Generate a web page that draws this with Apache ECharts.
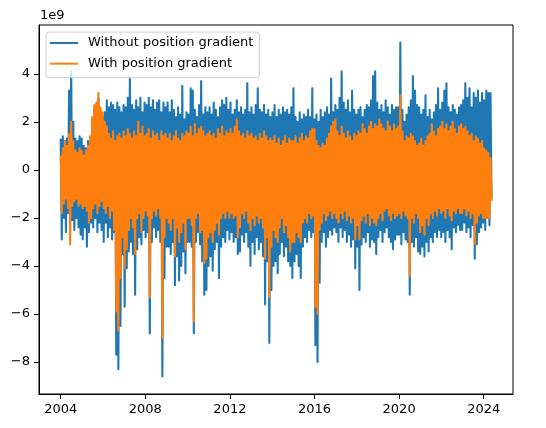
<!DOCTYPE html>
<html><head><meta charset="utf-8">
<script src="https://cdn.jsdelivr.net/npm/echarts@6/dist/echarts.min.js"></script>
<style>html,body{margin:0;padding:0;background:#fff}#c{width:546px;height:428px}</style>
</head><body><div id="c"></div>
<script>
const seriesNames = ['Without position gradient', 'With position gradient'];
const timeStart = 2004.0, timeEnd = 2024.37;
const xTicks = [2004, 2008, 2012, 2016, 2020, 2024];
const yTicks = [-8, -6, -4, -2, 0, 2, 4];

// upper / lower envelopes of the dense daily series (units of 1e9), ~0.1 yr apart
const blueHigh = [
1.3,
1.4,1.2,1.3,3.3,4.1,2.0,1.3,1.2,1.4,1.3,
1.0,0.9,1.2,1.3,2.0,2.5,2.6,3.0,2.4,2.2,
2.4,2.9,2.6,2.8,2.7,2.5,2.8,2.6,2.4,2.7,
2.6,3.0,3.8,2.7,2.5,2.9,2.6,3.0,2.4,2.8,
2.7,3.0,2.6,2.9,2.5,2.8,2.9,2.4,2.8,2.6,
2.8,2.4,2.9,2.5,2.2,2.6,2.3,3.5,2.1,2.4,
2.3,3.4,3.3,2.5,2.2,2.7,3.7,2.3,2.6,2.4,
2.6,2.3,2.8,2.5,2.2,2.6,2.9,2.7,3.0,2.5,
2.8,2.3,2.5,2.9,2.4,2.6,2.3,2.5,3.6,2.4,
2.6,2.3,2.7,3.4,2.5,2.4,2.7,2.3,2.5,2.2,
2.4,2.7,2.2,2.5,2.3,2.6,2.4,2.5,2.3,2.6,
3.4,2.2,2.0,2.4,2.1,2.3,2.2,2.5,2.2,3.4,
2.1,2.3,2.0,2.5,2.2,2.4,2.6,2.3,3.8,2.4,
2.7,2.5,3.0,4.1,2.8,2.5,2.9,2.4,3.3,2.5,
2.3,2.5,2.6,2.2,2.5,2.7,2.6,2.9,3.9,4.1,
2.8,2.5,2.7,2.4,2.9,2.6,2.3,2.7,2.5,2.6,
2.6,5.3,2.5,2.0,2.3,2.6,2.9,3.9,3.3,2.7,
2.6,2.3,2.5,3.1,2.2,2.5,2.1,2.4,2.7,3.4,
2.5,2.8,3.3,3.6,2.6,2.4,2.7,2.5,2.3,2.6,
2.7,2.9,3.6,3.0,3.4,2.6,3.2,3.0,3.3,2.8,
3.2,2.9,3.3,3.2,3.2
];
const blueLow = [
-2.9,
-2.0,-2.6,-1.8,-2.2,-2.1,-2.5,-2.0,-2.4,-2.7,-2.9,
-2.4,-3.2,-2.6,-2.2,-2.4,-2.0,-2.6,-2.2,-2.5,-3.0,
-2.2,-2.8,-2.4,-2.9,-2.6,-7.7,-8.3,-6.5,-3.5,-5.7,
-4.1,-3.4,-3.0,-3.5,-5.2,-3.3,-2.8,-3.1,-2.5,-2.8,
-2.6,-6.8,-3.0,-2.4,-2.8,-2.5,-3.0,-8.6,-4.5,-3.2,
-3.2,-3.5,-3.0,-4.8,-3.6,-4.6,-4.0,-3.4,-4.3,-3.0,
-3.0,-3.2,-6.8,-3.0,-2.6,-3.1,-3.8,-5.2,-5.0,-4.0,
-3.6,-4.2,-3.3,-3.0,-4.5,-3.2,-2.8,-3.0,-2.5,-2.9,
-2.6,-3.0,-2.8,-3.5,-3.4,-2.7,-3.0,-2.6,-3.2,-4.0,
-3.0,-3.5,-2.8,-3.3,-3.0,-3.6,-5.6,-3.8,-7.2,-5.0,
-4.0,-3.8,-4.3,-3.5,-3.0,-3.6,-3.2,-3.8,-4.0,-4.5,
-3.8,-3.5,-4.0,-4.5,-3.2,-2.8,-3.0,-2.5,-2.8,-2.6,
-7.3,-8.0,-4.7,-3.0,-2.6,-3.2,-2.8,-2.5,-2.7,-2.4,
-2.6,-3.0,-2.4,-2.8,-2.5,-3.0,-2.7,-3.2,-2.9,-4.1,
-3.2,-5.0,-3.1,-2.8,-3.0,-2.6,-3.2,-2.9,-3.0,-3.5,
-2.8,-2.5,-3.0,-2.6,-2.4,-2.8,-3.0,-3.3,-2.9,-2.7,
-2.7,-3.1,-2.6,-2.9,-3.0,-5.2,-3.0,-3.2,-2.8,-3.4,
-3.5,-3.2,-3.6,-3.0,-3.4,-2.8,-3.0,-2.6,-2.8,-2.5,
-2.8,-2.6,-3.0,-2.5,-2.8,-3.3,-2.4,-2.6,-2.3,-2.5,
-2.5,-2.2,-2.6,-2.4,-2.8,-2.3,-3.7,-3.1,-2.6,-2.4,
-2.2,-2.5,-2.0,-2.3,-1.2
];
const orangeHigh = [
0.6,
0.9,1.2,1.0,1.5,2.0,1.2,0.8,0.7,0.9,0.8,
0.6,0.8,1.0,1.4,2.2,2.7,2.8,3.2,2.6,2.4,
2.0,1.8,1.5,1.3,1.6,1.2,1.4,1.5,1.3,1.6,
1.4,1.7,1.5,1.3,1.6,1.4,2.0,1.5,1.8,1.4,
1.5,1.7,1.3,1.6,1.4,1.5,1.2,1.6,1.4,1.5,
1.3,1.5,1.2,1.4,1.6,1.3,1.2,1.5,1.4,1.6,
1.5,1.8,1.4,1.9,1.5,1.7,1.8,1.6,1.4,1.5,
1.6,1.4,1.5,1.3,1.7,1.5,1.8,1.4,1.6,1.5,
1.7,1.5,1.8,2.1,1.6,1.4,1.5,1.3,1.6,1.4,
1.5,1.3,1.4,1.2,1.5,1.3,1.6,1.4,1.2,1.3,
1.2,1.4,1.1,1.3,1.0,1.2,1.4,1.1,1.3,1.2,
1.2,1.4,1.1,1.3,1.5,1.2,1.4,1.3,1.6,1.7,
1.7,1.2,1.0,0.9,1.1,1.0,1.3,1.5,1.8,2.0,
2.1,1.6,1.4,1.8,1.5,1.3,1.6,1.4,1.2,1.5,
1.4,1.6,1.5,1.9,1.7,1.5,1.8,2.0,1.7,1.9,
1.8,2.1,1.9,1.7,1.6,2.0,1.8,1.6,1.9,1.7,
1.8,3.1,1.6,1.2,1.4,1.3,1.5,1.4,1.2,1.0,
1.1,1.3,1.0,1.2,1.4,1.5,1.9,1.6,1.4,1.7,
1.8,2.0,1.7,1.9,1.6,1.8,2.0,1.7,1.5,1.8,
1.9,1.7,1.8,1.6,1.4,1.5,1.2,1.4,1.3,1.1,
1.2,0.9,0.8,0.7,0.5
];
const orangeLow = [
-1.8,
-1.4,-1.2,-1.6,-3.1,-1.5,-1.3,-1.2,-1.5,-1.4,-1.6,
-1.5,-1.7,-2.2,-2.0,-1.6,-1.4,-1.8,-1.5,-1.3,-1.6,
-1.8,-1.5,-2.0,-1.7,-2.5,-5.9,-6.7,-4.5,-2.8,-4.1,
-3.3,-2.5,-2.0,-2.4,-3.5,-2.0,-1.8,-2.6,-2.0,-1.7,
-1.9,-5.3,-2.0,-1.7,-1.9,-1.6,-2.0,-7.0,-2.8,-2.0,
-2.2,-2.5,-2.0,-3.6,-2.4,-3.0,-2.6,-2.2,-3.3,-2.0,
-2.0,-2.3,-6.3,-2.0,-1.8,-2.6,-2.5,-3.9,-3.7,-2.8,
-2.6,-3.0,-2.5,-2.2,-2.7,-2.0,-1.8,-2.0,-1.7,-2.0,
-1.8,-2.0,-1.9,-2.8,-2.4,-1.8,-2.0,-1.7,-2.2,-2.5,
-2.0,-2.3,-1.9,-2.2,-2.0,-2.4,-3.7,-2.8,-5.3,-3.2,
-2.5,-2.8,-3.0,-2.4,-2.0,-2.6,-2.3,-2.8,-3.4,-3.0,
-3.0,-2.6,-2.8,-3.0,-2.2,-2.0,-2.2,-1.8,-2.0,-1.9,
-5.7,-6.0,-2.5,-2.2,-1.8,-2.1,-1.9,-1.7,-2.0,-1.8,
-2.0,-2.2,-1.8,-2.0,-1.7,-2.1,-1.9,-2.2,-2.0,-2.9,
-2.3,-2.9,-2.1,-1.9,-2.2,-1.8,-2.3,-2.0,-2.2,-2.3,
-2.0,-1.8,-2.1,-1.7,-1.6,-1.9,-2.1,-1.8,-2.0,-1.9,
-1.8,-2.0,-1.7,-1.9,-2.0,-4.4,-2.0,-2.2,-1.8,-2.0,
-2.6,-2.3,-2.7,-2.0,-2.3,-1.8,-2.0,-1.7,-1.9,-1.6,
-1.8,-1.7,-2.0,-1.6,-1.9,-2.1,-1.7,-1.8,-1.6,-1.8,
-1.8,-1.6,-1.9,-1.7,-2.0,-1.8,-3.1,-2.2,-1.9,-1.8,
-2.0,-2.0,-2.0,-2.0,-1.3
];

function zigzag(hi, lo) {
  const n = hi.length;
  const step = (timeEnd - timeStart) / (n - 0.5);
  const out = [];
  for (let i = 0; i < n; i++) {
    const t = timeStart + i * step;
    out.push([t, hi[i]]);
    out.push([t + step / 2, lo[i]]);
  }
  return out;
}

const FONT = 'DejaVu Sans';
const chart = echarts.init(document.getElementById('c'), null, {renderer: 'canvas'});
chart.setOption({
  animation: false,
  backgroundColor: '#fff',
  grid: {left: 39, right: 33, top: 25, bottom: 34, show: true, borderColor: '#000', borderWidth: 1, backgroundColor: 'transparent'},
  legend: {
    data: seriesNames, orient: 'vertical', left: 46, top: 32,
    padding: [3, 6, 6, 4], itemGap: 4.7, itemWidth: 28, itemHeight: 2, icon: 'rect',
    backgroundColor: 'rgba(255,255,255,0.8)', borderColor: '#cccccc', borderWidth: 1, borderRadius: 3,
    textStyle: {color: '#000', fontSize: 13, fontFamily: FONT, lineHeight: 16, padding: [0, 0, 0, 5]}
  },
  xAxis: {
    type: 'value', min: 2002.974, max: 2025.385,
    axisLine: {show: true, onZero: false, lineStyle: {color: '#000', width: 1}},
    axisTick: {show: true, customValues: xTicks, length: 5, lineStyle: {color: '#000', width: 1}},
    axisLabel: {customValues: xTicks, formatter: v => String(Math.round(v)), color: '#000', fontSize: 13, fontFamily: FONT, margin: 9},
    splitLine: {show: false}
  },
  yAxis: {
    type: 'value', min: -9.33, max: 6.03,
    axisLine: {show: true, onZero: false, lineStyle: {color: '#000', width: 1}},
    axisTick: {show: true, customValues: yTicks, length: 5, lineStyle: {color: '#000', width: 1}},
    axisLabel: {customValues: yTicks, formatter: v => (v < 0 ? '\u2212' + Math.abs(v) : String(v)), color: '#000', fontSize: 13, fontFamily: FONT, margin: 9},
    splitLine: {show: false}
  },
  graphic: [{type: 'text', left: 40, top: 9.5, style: {text: '1e9', font: '13px "DejaVu Sans"', fill: '#000'}}],
  series: [
    {name: seriesNames[0], type: 'line', data: zigzag(blueHigh, blueLow), symbol: 'none', sampling: null,
     color: '#1f77b4', lineStyle: {color: '#1f77b4', width: 2.1, join: 'round'}},
    {name: seriesNames[1], type: 'line', data: zigzag(orangeHigh, orangeLow), symbol: 'none', sampling: null,
     color: '#ff7f0e', lineStyle: {color: '#ff7f0e', width: 2.1, join: 'round'}}
  ]
});
</script></body></html>
